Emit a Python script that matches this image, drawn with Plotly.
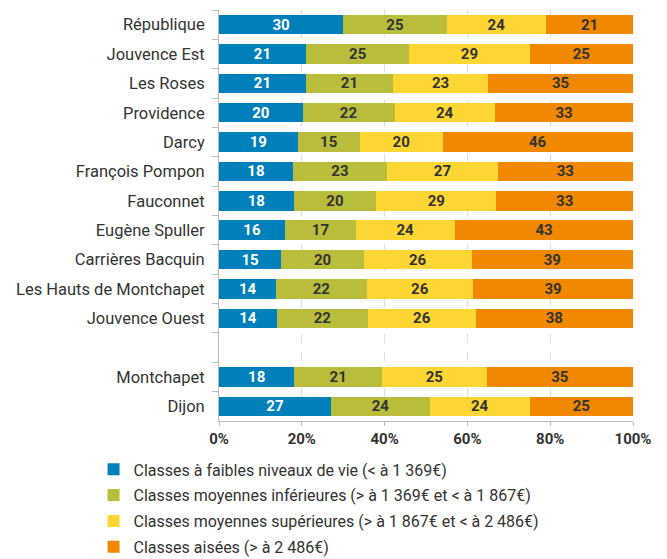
import plotly.graph_objects as go

categories = ["République", "Jouvence Est", "Les Roses", "Providence", "Darcy",
              "François Pompon", "Fauconnet", "Eugène Spuller", "Carrières Bacquin",
              "Les Hauts de Montchapet", "Jouvence Ouest", " ", "Montchapet", "Dijon"]

faibles =    [30, 21, 21, 20, 19, 18, 18, 16, 15, 14, 14, None, 18, 27]
moy_inf =    [25, 25, 21, 22, 15, 23, 20, 17, 20, 22, 22, None, 21, 24]
moy_sup =    [24, 29, 23, 24, 20, 27, 29, 24, 26, 26, 26, None, 25, 24]
aisees =     [21, 25, 35, 33, 46, 33, 33, 43, 39, 39, 38, None, 35, 25]

series_names = [
    "Classes à faibles niveaux de vie (< à 1 369€)",
    "Classes moyennes inférieures (> à 1 369€ et < à 1 867€)",
    "Classes moyennes supérieures (> à 1 867€ et < à 2 486€)",
    "Classes aisées (> à 2 486€)",
]
series_values = [faibles, moy_inf, moy_sup, aisees]
colors = ["#0080BA", "#B8BE3C", "#FED633", "#F18800"]
text_colors = ["#FFFFFF", "#333333", "#333333", "#333333"]

fig = go.Figure()
for i, (name, vals, col, tc) in enumerate(zip(series_names, series_values, colors, text_colors)):
    fig.add_trace(go.Bar(
        y=categories, x=vals, name=name, orientation="h",
        marker=dict(color=col, line=dict(width=0)),
        text=[("" if v is None else str(v)) for v in vals],
        texttemplate="%{text}",
        textposition="inside", insidetextanchor="middle", textangle=0,
        textfont=dict(color=tc, size=15, family="Roboto", weight="bold"),
        constraintext="none",
        legendgroup=f"g{i}",
        hoverinfo="skip",
    ))

fig.update_layout(
    width=667, height=559,
    barmode="stack", barnorm="percent", bargap=0.34,
    font=dict(family="Roboto", color="#333333", size=16),
    plot_bgcolor="white", paper_bgcolor="white",
    margin=dict(l=211, r=42, t=2, b=146),
    showlegend=True,
    legend=dict(
        orientation="v", x=-0.303, xanchor="left",
        yref="container", y=0.205, yanchor="top",
        font=dict(size=16, color="#333333"), traceorder="grouped",
        tracegroupgap=2, itemclick=False,
    ),
    xaxis=dict(
        range=[0, 100], dtick=20, ticksuffix="%",
        showgrid=True, gridcolor="#DDDDDD", griddash="dash", gridwidth=1,
        showline=True, linecolor="#BBBBBB", linewidth=1,
        ticks="outside", ticklen=4, tickcolor="#BBBBBB",
        tickfont=dict(size=15, color="#333333", weight="bold"),
        zeroline=False, fixedrange=True,
    ),
    yaxis=dict(
        categoryorder="array", categoryarray=categories, autorange="reversed",
        showline=True, linecolor="#BBBBBB", linewidth=1,
        ticks="outside", ticklen=6, tickcolor="#BBBBBB", tickson="boundaries",
        tickfont=dict(size=16.5, color="#333333"),
        ticklabelstandoff=10, showgrid=False, fixedrange=True,
    ),
)

fig.write_html("out.html")
